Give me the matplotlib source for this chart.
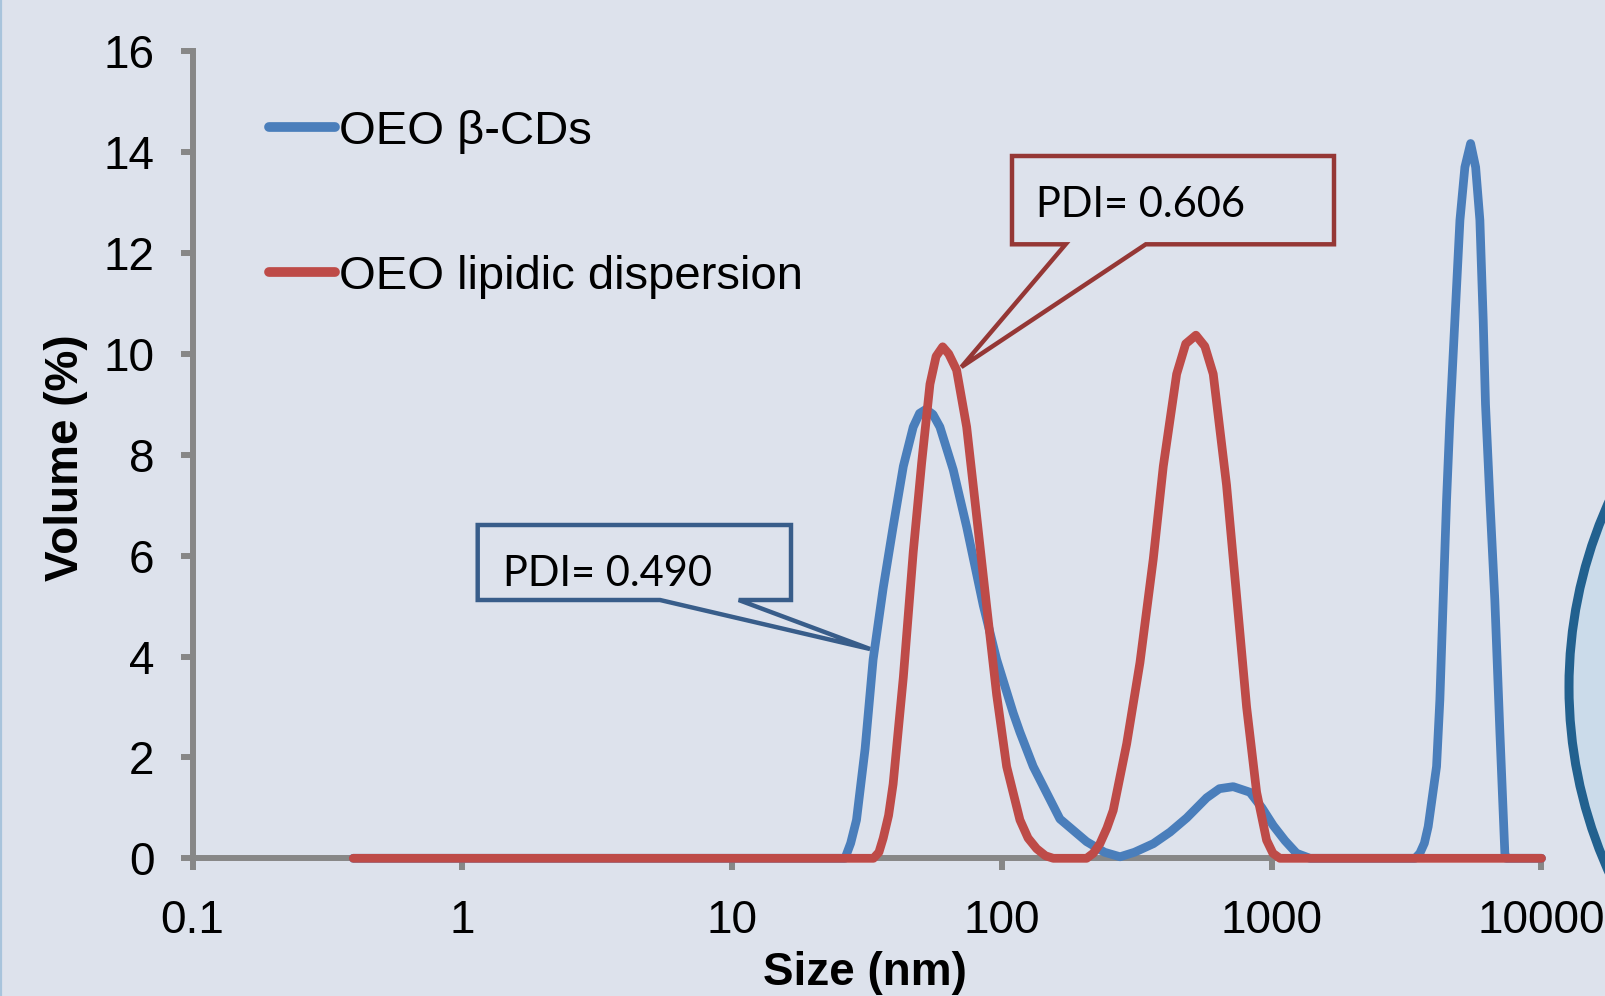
import numpy as np
import matplotlib
matplotlib.use("Agg")
import matplotlib.pyplot as plt
from matplotlib.patches import Polygon, Ellipse
from matplotlib.lines import Line2D
from matplotlib.ticker import NullLocator

# ---------------- data ----------------
series_labels = ["OEO β-CDs", "OEO lipidic dispersion"]

size_bcd = [0.394, 26.2, 27.5, 28.9, 31.1, 33.3, 36.3, 39.5, 43.1, 46.9, 49.5, 52.3,
            55.5, 58.9, 66.0, 74.0, 85.3, 95.6, 110.1, 116.6, 130.6, 164, 206,
            240, 274, 310, 364, 420, 484, 574, 640, 720, 830, 920, 1013, 1120,
            1236, 1386, 3400, 3541, 3680, 3802, 4083, 4200, 4321, 4447, 4575, 4775,
            4985, 5200, 5460, 5700, 5910, 6080, 6200, 6437, 6714, 7013, 7314,
            7400, 10000]
vol_bcd = [0.0, 0.0, 0.30, 0.76, 2.17, 3.94, 5.36, 6.57, 7.77, 8.55, 8.82, 8.90,
           8.80, 8.55, 7.70, 6.57, 5.01, 3.94, 2.88, 2.50, 1.82, 0.78, 0.33,
           0.12, 0.03, 0.12, 0.29, 0.52, 0.80, 1.20, 1.38, 1.42, 1.31, 1.00, 0.65, 0.35,
           0.10, 0.0, 0.0, 0.10, 0.30, 0.63, 1.82, 3.14, 5.12, 7.10, 8.69, 10.67,
           12.65, 13.70, 14.17, 13.70, 12.65, 10.67, 9.00, 7.10, 5.12, 2.48, 0.10,
           0.0, 0.0]

size_lip = [0.394, 33.4, 35.0, 36.3, 38.0, 39.5, 43.1, 46.9, 50.4, 54.1, 57.0, 60.3, 63.5,
            67.9, 74.0, 80.6, 87.7, 95.6, 104.1, 116.6, 125, 134.5, 145, 155, 206, 218,
            230.8, 245, 258.5, 290, 324.8, 363.8, 396.3, 444.2, 480, 523.6, 565, 607, 680,
            741, 807, 879, 957, 1010, 1072, 10000]
vol_lip = [0.0, 0.0, 0.12, 0.40, 0.85, 1.47, 3.59, 6.07, 7.84, 9.40, 9.95, 10.14, 10.00,
           9.68, 8.55, 6.78, 5.01, 3.24, 1.82, 0.76, 0.40, 0.19, 0.05, 0.0, 0.0, 0.10,
           0.29, 0.60, 0.95, 2.27, 3.88, 5.93, 7.77, 9.60, 10.20, 10.37, 10.15, 9.60, 7.40,
           5.20, 3.00, 1.31, 0.36, 0.10, 0.0, 0.0]

x_ticks = [0.1, 1, 10, 100, 1000, 10000]
x_tick_labels = ["0.1", "1", "10", "100", "1000", "10000"]
y_ticks = [0, 2, 4, 6, 8, 10, 12, 14, 16]
pdi_labels = ["PDI= 0.490", "PDI= 0.606"]

# ---------------- style ----------------
W, H, DPI = 1606, 996, 100
BG = "#DDE2EC"
BLUE = "#4A7EBB"
RED = "#BE4B48"
AXIS = "#878787"
plt.rcParams['font.family'] = ['Liberation Sans', 'DejaVu Sans']


def fp(x, y):
    """pixel (top-left origin) -> figure fraction"""
    return (x / W, 1 - y / H)


fig = plt.figure(figsize=(W / DPI, H / DPI), dpi=DPI, facecolor=BG)
ax = fig.add_axes([192.6 / W, 1 - 858.3 / H, 1348.9 / W, 807.1 / H])
ax.set_facecolor('none')

ax.plot(size_bcd, vol_bcd, color=BLUE, lw=6.3, solid_joinstyle='round',
        solid_capstyle='round', clip_on=False, zorder=3, label=series_labels[0])
ax.plot(size_lip, vol_lip, color=RED, lw=6.3, solid_joinstyle='round',
        solid_capstyle='round', clip_on=False, zorder=4, label=series_labels[1])

ax.set_xscale('log')
ax.set_xlim(0.1, 10000)
ax.set_ylim(0, 16)
ax.set_xticks(x_ticks)
ax.set_xticklabels(x_tick_labels)
ax.xaxis.set_minor_locator(NullLocator())
ax.set_yticks(y_ticks)

for s in ['top', 'right']:
    ax.spines[s].set_visible(False)
for s in ['left', 'bottom']:
    ax.spines[s].set_color(AXIS)
    ax.spines[s].set_linewidth(4.3)

ax.tick_params(axis='both', direction='out', length=8.6, width=4.3,
               color=AXIS, labelsize=33, labelcolor='black')
ax.tick_params(axis='y', pad=19)
ax.tick_params(axis='x', pad=21)

ax.set_xlabel("Size (nm)", fontsize=33, fontweight='bold', va='center')
ax.xaxis.set_label_coords((865 - 192.6) / 1348.9, (858.3 - 973) / 807.1)
ax.set_ylabel("Volume (%)", fontsize=33, fontweight='bold', va='center')
ax.yaxis.set_label_coords((66 - 192.6) / 1348.9, (858.3 - 458) / 807.1)

leg = ax.legend(loc='upper left', bbox_to_anchor=fp(269, 110),
                bbox_transform=fig.transFigure, frameon=False, fontsize=34,
                borderpad=0, borderaxespad=0, handlelength=1.40,
                handletextpad=0.08, labelspacing=2.13)
for ln in leg.get_lines():
    ln.set_linewidth(7)
    ln.set_solid_capstyle('round')

# ---------------- callouts ----------------
red_box = [(1012, 156), (1334, 156), (1334, 244.3), (1145.8, 244.3),
           (961.4, 367), (1065.6, 244.3), (1012, 244.3)]
blue_box = [(477.7, 525), (791, 525), (791, 600), (738.7, 600),
            (870, 649), (660, 600), (477.7, 600)]
fig.add_artist(Polygon([fp(*p) for p in red_box], closed=True, fill=False,
                       edgecolor="#953735", lw=3.2, joinstyle='miter',
                       transform=fig.transFigure, zorder=5))
fig.add_artist(Polygon([fp(*p) for p in blue_box], closed=True, fill=False,
                       edgecolor="#385D8A", lw=3.2, joinstyle='miter',
                       transform=fig.transFigure, zorder=5))
fig.text(*fp(502.6, 586), pdi_labels[0], fontsize=30, family=['Lato', 'DejaVu Sans'],
         ha='left', va='baseline', color='black')
fig.text(*fp(1035.5, 217), pdi_labels[1], fontsize=30, family=['Lato', 'DejaVu Sans'],
         ha='left', va='baseline', color='black')

# ---------------- slide decorations ----------------
R = 450
fig.add_artist(Ellipse(((1569 + R) / DPI, (H - 687) / DPI), 2 * R / DPI, 2 * R / DPI,
                       transform=fig.dpi_scale_trans, facecolor="#CBDBEA",
                       edgecolor="#22618F", lw=6.5, zorder=1))
fig.add_artist(Line2D([1.2 / W, 1.2 / W], [0, 1], transform=fig.transFigure,
                      color="#A8C4DC", lw=1.6))

fig.savefig("out.png", dpi=DPI, facecolor=BG)
